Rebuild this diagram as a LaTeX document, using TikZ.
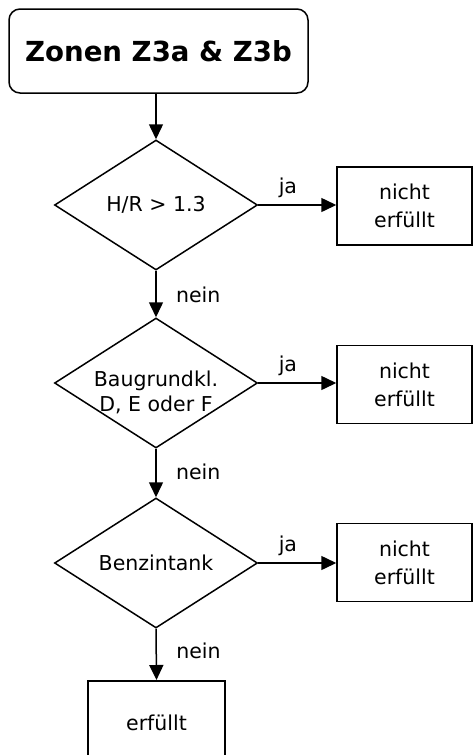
\documentclass[tikz,border=0pt]{standalone}
\usepackage{fontspec}
\setmainfont{DejaVu Sans}
\usetikzlibrary{shapes.geometric,arrows.meta}
\begin{document}
\begin{tikzpicture}[x=1pt,y=-1pt,
  line width=1.5pt,
  titlebox/.style={draw, rounded corners=11pt, minimum width=299pt, minimum height=84pt, inner sep=0pt, font=\fontsize{27.6}{30}\selectfont\bfseries},
  decision/.style={draw, diamond, aspect=1.55, minimum width=203pt, minimum height=130pt, inner sep=0pt, align=center, font=\fontsize{20.5}{25}\selectfont},
  result/.style={draw, rectangle, minimum width=135pt, minimum height=78pt, inner sep=0pt, align=center, font=\fontsize{20.5}{28}\selectfont},
  flow/.style={-{Triangle[length=15pt,width=14pt]}},
  lbl/.style={anchor=base, font=\fontsize{20.5}{24}\selectfont},
  nlbl/.style={anchor=base west, xshift=16pt, font=\fontsize{20.5}{24}\selectfont}
]
\clip (0,0) rectangle (473,755);
\node[titlebox] (title) at (158.5,51) {Zonen Z3a \& Z3b};
\node[decision] (d1) at (156,205) {H/R > 1.3};
\node[result] (r1) at (404.5,206) {nicht\\erfüllt};
\node[decision, label={[align=center, font=\fontsize{20.5}{25}\selectfont, yshift=-9pt]center:Baugrundkl.\\D, E oder F}] (d2) at (156,383) {};
\node[result] (r2) at (404.5,384.5) {nicht\\erfüllt};
\node[decision] (d3) at (156,563) {Benzintank};
\node[result] (r3) at (404.5,562.5) {nicht\\erfüllt};
\node[result, minimum width=137pt, minimum height=84pt, anchor=north] (end) at (156.5,680) {erfüllt};

\draw[flow] (title.south -| d1.north) -- (d1.north);
\draw[flow] (d1.east) -- node[lbl, pos=.38, yshift=12pt]{ja} (d1.east -| r1.west);
\draw[flow] (d1.south) -- node[nlbl, pos=.69]{nein} (d2.north);
\draw[flow] (d2.east) -- node[lbl, pos=.38, yshift=12pt]{ja} (d2.east -| r2.west);
\draw[flow] (d2.south) -- node[nlbl, pos=.64]{nein} (d3.north);
\draw[flow] (d3.east) -- node[lbl, pos=.38, yshift=12pt]{ja} (d3.east -| r3.west);
\draw[flow] (d3.south) -- node[nlbl, pos=.58]{nein} (end.north);
\end{tikzpicture}
\end{document}
